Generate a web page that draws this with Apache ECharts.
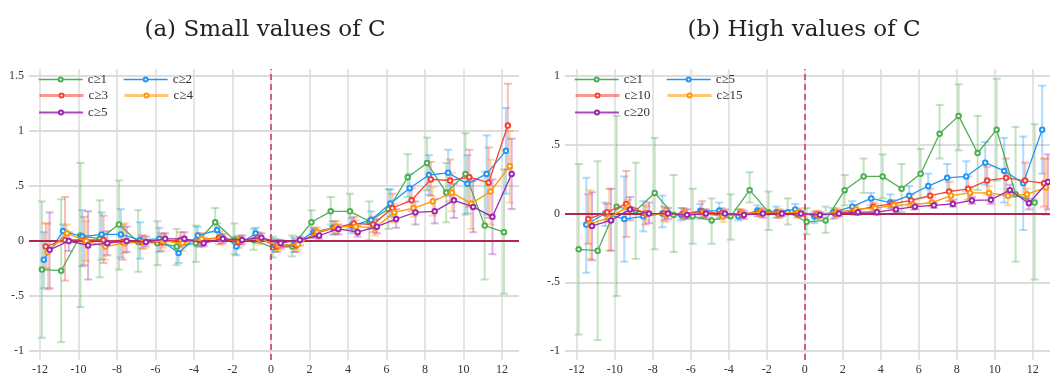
<!DOCTYPE html>
<html>
<head>
<meta charset="utf-8">
<script src="https://cdn.jsdelivr.net/npm/echarts@6/dist/echarts.min.js"></script>
<style>
  html, body { margin: 0; padding: 0; background: #fff; }
  #wrap { width: 1050px; height: 376px; position: relative; }
  .panel { position: absolute; top: 0; width: 525px; height: 376px; }
  #panelA { left: 0; }
  #panelB { left: 525px; }
</style>
</head>
<body>
<div id="wrap">
  <div id="panelA" class="panel"></div>
  <div id="panelB" class="panel"></div>
</div>
<script>
// Event time (periods relative to treatment) and axis ticks
const eventTime = [-12, -11, -10, -9, -8, -7, -6, -5, -4, -3, -2, -1, 0, 1, 2, 3, 4, 5, 6, 7, 8, 9, 10, 11, 12];
const xTicks = [-12, -10, -8, -6, -4, -2, 0, 2, 4, 6, 8, 10, 12];
const yTicksA = [-1, -0.5, 0, 0.5, 1, 1.5];
const yTicksB = [-1, -0.5, 0, 0.5, 1];

// Point estimates and 95% confidence bounds by threshold
const c1Val = [-0.26, -0.27, 0.05, 0.02, 0.15, -0.01, -0.02, -0.05, -0.02, 0.17, 0.01, 0.01, -0.06, -0.05, 0.17, 0.27, 0.27, 0.18, 0.29, 0.58, 0.71, 0.44, 0.61, 0.14, 0.08];
const c1Hi  = [0.36, 0.38, 0.71, 0.37, 0.55, 0.28, 0.18, 0.11, 0.14, 0.30, 0.16, 0.11, 0.04, 0.05, 0.28, 0.40, 0.43, 0.36, 0.47, 0.79, 0.94, 0.71, 0.98, 0.63, 0.65];
const c1Lo  = [-0.88, -0.92, -0.60, -0.33, -0.26, -0.28, -0.22, -0.22, -0.19, 0.08, -0.12, -0.08, -0.15, -0.14, 0.06, 0.15, 0.11, 0.01, 0.11, 0.40, 0.46, 0.17, 0.24, -0.35, -0.48];

const c2Val = [-0.17, 0.09, 0.04, 0.06, 0.06, 0.01, 0.02, -0.11, 0.05, 0.10, -0.05, 0.07, -0.04, -0.03, 0.08, 0.12, 0.14, 0.19, 0.34, 0.48, 0.60, 0.62, 0.52, 0.61, 0.82];
const c2Hi  = [0.08, 0.15, 0.28, 0.26, 0.29, 0.17, 0.12, 0.02, 0.13, 0.16, 0.04, 0.12, 0.02, 0.03, 0.12, 0.18, 0.21, 0.27, 0.47, 0.61, 0.78, 0.83, 0.78, 0.96, 1.21];
const c2Lo  = [-0.43, 0.02, -0.23, -0.17, -0.15, -0.16, -0.10, -0.20, -0.05, 0.02, -0.13, 0.01, -0.10, -0.10, 0.03, 0.06, 0.07, 0.11, 0.22, 0.36, 0.42, 0.41, 0.25, 0.24, 0.43];

const c3Val = [-0.05, 0.01, 0.01, 0.01, -0.01, -0.01, -0.01, 0.01, 0.01, 0.03, -0.01, 0.03, -0.05, -0.04, 0.07, 0.12, 0.16, 0.15, 0.30, 0.37, 0.56, 0.55, 0.58, 0.53, 1.05];
const c3Hi  = [0.16, 0.40, 0.22, 0.23, 0.15, 0.05, 0.07, 0.08, 0.07, 0.09, 0.04, 0.08, 0.01, 0.01, 0.12, 0.18, 0.22, 0.22, 0.43, 0.48, 0.72, 0.74, 0.83, 0.85, 1.43];
const c3Lo  = [-0.25, -0.36, -0.22, -0.20, -0.17, -0.07, -0.09, -0.06, -0.05, -0.03, -0.06, -0.02, -0.10, -0.10, 0.03, 0.06, 0.10, 0.08, 0.18, 0.27, 0.41, 0.36, 0.31, 0.21, 0.65];

const c4Val = [-0.10, 0.07, 0.00, -0.05, -0.02, -0.01, 0.00, -0.02, 0.02, 0.02, 0.01, 0.02, -0.04, -0.03, 0.08, 0.13, 0.13, 0.12, 0.26, 0.30, 0.36, 0.44, 0.34, 0.45, 0.68];
const c4Hi  = [0.16, 0.15, 0.18, 0.07, 0.16, 0.05, 0.06, 0.05, 0.07, 0.07, 0.05, 0.07, 0.01, 0.01, 0.12, 0.18, 0.19, 0.19, 0.34, 0.39, 0.49, 0.62, 0.54, 0.74, 1.00];
const c4Lo  = [-0.44, -0.02, -0.18, -0.17, -0.11, -0.07, -0.06, -0.09, -0.03, -0.03, -0.04, -0.03, -0.09, -0.08, 0.03, 0.07, 0.08, 0.05, 0.17, 0.22, 0.23, 0.27, 0.11, 0.15, 0.35];

const c5Val = [-0.08, 0.00, -0.04, -0.02, 0.00, -0.01, 0.02, 0.02, -0.02, 0.02, 0.01, 0.03, -0.02, 0.01, 0.05, 0.11, 0.08, 0.13, 0.20, 0.26, 0.27, 0.37, 0.31, 0.22, 0.61];
const c5Hi  = [0.26, 0.08, 0.27, 0.09, 0.13, 0.04, 0.07, 0.08, 0.03, 0.06, 0.05, 0.07, 0.01, 0.04, 0.09, 0.15, 0.14, 0.20, 0.29, 0.36, 0.38, 0.52, 0.55, 0.56, 0.93];
const c5Lo  = [-0.43, -0.09, -0.35, -0.13, -0.10, -0.05, -0.04, -0.03, -0.05, -0.02, -0.03, 0.00, -0.07, -0.04, 0.02, 0.06, 0.04, 0.07, 0.12, 0.15, 0.16, 0.21, 0.08, -0.12, 0.29];

const c10Val = [-0.04, 0.01, 0.07, 0.00, 0.00, 0.00, 0.015, 0.00, 0.00, 0.01, 0.00, 0.00, -0.01, 0.00, 0.02, 0.05, 0.07, 0.095, 0.13, 0.16, 0.18, 0.24, 0.26, 0.24, 0.22];
const c10Hi  = [0.14, 0.07, 0.31, 0.06, 0.05, 0.04, 0.09, 0.04, 0.03, 0.04, 0.03, 0.03, 0.02, 0.03, 0.05, 0.08, 0.10, 0.14, 0.18, 0.23, 0.27, 0.34, 0.40, 0.37, 0.40];
const c10Lo  = [-0.22, -0.05, -0.17, -0.08, -0.05, -0.04, -0.03, -0.04, -0.03, -0.02, -0.03, -0.03, -0.04, -0.03, -0.01, 0.02, 0.04, 0.05, 0.08, 0.09, 0.10, 0.14, 0.13, 0.11, 0.05];

const c15Val = [-0.075, -0.03, 0.05, 0.00, -0.01, 0.00, 0.00, -0.02, 0.00, 0.01, 0.00, 0.01, -0.01, 0.01, 0.03, 0.04, 0.06, 0.065, 0.08, 0.13, 0.15, 0.15, 0.13, 0.14, 0.19];
const c15Hi  = [0.17, 0.18, 0.10, 0.05, 0.04, 0.03, 0.03, 0.02, 0.03, 0.04, 0.03, 0.04, 0.02, 0.04, 0.06, 0.07, 0.09, 0.10, 0.12, 0.17, 0.18, 0.20, 0.17, 0.18, 0.40];
const c15Lo  = [-0.33, -0.27, 0.00, -0.05, -0.06, -0.03, -0.03, -0.06, -0.03, -0.02, -0.03, -0.02, -0.04, -0.02, 0.00, 0.01, 0.03, 0.03, 0.05, 0.09, 0.11, 0.09, 0.06, 0.09, -0.01];

const c20Val = [-0.09, -0.05, 0.03, 0.00, 0.00, -0.01, 0.00, 0.00, -0.01, 0.00, 0.00, 0.00, -0.01, 0.00, 0.01, 0.01, 0.03, 0.05, 0.06, 0.07, 0.095, 0.10, 0.17, 0.075, 0.23];
const c20Hi  = [0.155, 0.18, 0.12, 0.08, 0.04, 0.03, 0.03, 0.03, 0.02, 0.03, 0.02, 0.02, 0.01, 0.02, 0.03, 0.03, 0.05, 0.07, 0.08, 0.10, 0.12, 0.13, 0.21, 0.11, 0.43];
const c20Lo  = [-0.34, -0.27, -0.05, -0.07, -0.04, -0.04, -0.03, -0.03, -0.04, -0.03, -0.02, -0.02, -0.03, -0.02, -0.01, -0.01, 0.01, 0.03, 0.04, 0.05, 0.07, 0.07, 0.12, 0.03, 0.03];

// Colour per line slot
const palette = ['#4caf50', '#2196f3', '#f44336', '#ff9800', '#9c27b0'];
const barPalette = ['rgba(76,175,80,0.35)', 'rgba(33,150,243,0.35)', 'rgba(244,67,54,0.35)', 'rgba(255,152,0,0.35)', 'rgba(156,39,176,0.35)'];
// Legend key stroke per slot
const legendStroke = [
  { width: 1.3, opacity: 1 },
  { width: 1.3, opacity: 1 },
  { width: 3, opacity: 0.55 },
  { width: 3, opacity: 0.55 },
  { width: 2, opacity: 0.85 }
];
const FONT = "'Liberation Serif', 'DejaVu Serif', serif";
const TITLE_FONT = "'DejaVu Serif', 'Liberation Serif', serif";

// Each threshold gets a small horizontal dodge so bars do not overlap
const groupsA = [
  { name: 'c≥1', val: c1Val, lo: c1Lo, hi: c1Hi, dodge: 0.1 },
  { name: 'c≥2', val: c2Val, lo: c2Lo, hi: c2Hi, dodge: 0.2 },
  { name: 'c≥3', val: c3Val, lo: c3Lo, hi: c3Hi, dodge: 0.3 },
  { name: 'c≥4', val: c4Val, lo: c4Lo, hi: c4Hi, dodge: 0.4 },
  { name: 'c≥5', val: c5Val, lo: c5Lo, hi: c5Hi, dodge: 0.5 }
];
const groupsB = [
  { name: 'c≥1',  val: c1Val,  lo: c1Lo,  hi: c1Hi,  dodge: 0.1 },
  { name: 'c≥5',  val: c5Val,  lo: c5Lo,  hi: c5Hi,  dodge: 0.5 },
  { name: 'c≥10', val: c10Val, lo: c10Lo, hi: c10Hi, dodge: 0.6 },
  { name: 'c≥15', val: c15Val, lo: c15Lo, hi: c15Hi, dodge: 0.7 },
  { name: 'c≥20', val: c20Val, lo: c20Lo, hi: c20Hi, dodge: 0.8 }
];

function fmtY(v) {
  if (v === 0) return '0';
  return String(v).replace('0.', '.');
}

function errorBarRenderer(color) {
  return function (params, api) {
    const x = api.value(0);
    const pLo = api.coord([x, api.value(1)]);
    const pHi = api.coord([x, api.value(2)]);
    const cap = 4;
    const style = { stroke: color, lineWidth: 2 };
    return {
      type: 'group',
      children: [
        { type: 'line', shape: { x1: pLo[0], y1: pLo[1], x2: pHi[0], y2: pHi[1] }, style: style },
        { type: 'line', shape: { x1: pLo[0] - cap, y1: pLo[1], x2: pLo[0] + cap, y2: pLo[1] }, style: style },
        { type: 'line', shape: { x1: pHi[0] - cap, y1: pHi[1], x2: pHi[0] + cap, y2: pHi[1] }, style: style }
      ]
    };
  };
}

function buildOption(cfg) {
  const series = [];
  cfg.groups.forEach(function (g, i) {
    series.push({
      name: g.name + ' ci',
      type: 'custom',
      renderItem: errorBarRenderer(barPalette[i]),
      encode: { x: 0, y: [1, 2] },
      data: eventTime.map(function (t, k) { return [t + g.dodge, g.lo[k], g.hi[k]]; }),
      z: 1,
      silent: true
    });
  });
  cfg.groups.forEach(function (g, i) {
    series.push({
      name: g.name,
      type: 'line',
      data: eventTime.map(function (t, k) { return [t + g.dodge, g.val[k]]; }),
      symbol: 'emptyCircle',
      symbolSize: 4.5,
      showAllSymbol: true,
      color: palette[i],
      lineStyle: { width: 1.3, color: palette[i] },
      itemStyle: { color: palette[i], borderWidth: 1.2 },
      z: 3 + i
    });
  });
  // Reference lines: zero effect and treatment date
  series.push({
    name: 'ref',
    type: 'line',
    data: [],
    silent: true,
    z: 2,
    markLine: {
      silent: true,
      symbol: 'none',
      label: { show: false },
      animation: false,
      data: [
        { yAxis: 0, lineStyle: { color: '#b0264f', width: 2, type: 'solid' } },
        { xAxis: 0, lineStyle: { color: '#c8325e', width: 1.5, type: [6, 4] } }
      ]
    }
  });

  const legends = cfg.groups.map(function (g, i) {
    const pos = cfg.legendPos[i];
    return {
      data: [g.name],
      left: pos[0],
      top: pos[1],
      itemWidth: 44,
      itemHeight: 5,
      itemGap: 5,
      selectedMode: false,
      lineStyle: { width: legendStroke[i].width, opacity: legendStroke[i].opacity },
      textStyle: { fontFamily: FONT, fontSize: 13, color: '#333' }
    };
  });

  return {
    animation: false,
    backgroundColor: '#fff',
    title: {
      text: cfg.title,
      left: cfg.titleX,
      textAlign: 'center',
      top: 14,
      textStyle: { fontFamily: TITLE_FONT, fontSize: 23, fontWeight: 'normal', color: '#222' }
    },
    legend: legends,
    grid: { left: cfg.gridLeft, right: cfg.gridRight, top: 69, bottom: 16 },
    xAxis: {
      type: 'value',
      min: cfg.xMin,
      max: cfg.xMax,
      axisLine: { show: false },
      axisTick: { show: false, customValues: xTicks },
      axisLabel: { customValues: xTicks, margin: 4, fontFamily: FONT, fontSize: 12, color: '#333' },
      splitLine: { show: true, lineStyle: { color: '#dcdcdc', width: 1.5 } }
    },
    yAxis: {
      type: 'value',
      min: cfg.yMin,
      max: cfg.yMax,
      axisLine: { show: false },
      axisTick: { show: false, customValues: cfg.yTicks },
      axisLabel: { customValues: cfg.yTicks, margin: 5, formatter: fmtY, fontFamily: FONT, fontSize: 12, color: '#333' },
      splitLine: { show: true, lineStyle: { color: '#dcdcdc', width: 2 } }
    },
    series: series
  };
}

const chartA = echarts.init(document.getElementById('panelA'), null, { renderer: 'canvas' });
chartA.setOption(buildOption({
  title: '(a) Small values of C',
  titleX: 260,
  groups: groupsA,
  legendPos: [[33, 68], [118, 68], [33, 84], [118, 84], [33, 101]],
  gridLeft: 29, gridRight: 6,
  xMin: -12.57, xMax: 12.88,
  yMin: -1.082, yMax: 1.564,
  yTicks: yTicksA
}));

const chartB = echarts.init(document.getElementById('panelB'), null, { renderer: 'canvas' });
chartB.setOption(buildOption({
  title: '(b) High values of C',
  titleX: 274,
  groups: groupsB,
  legendPos: [[44, 68], [136, 68], [44, 84], [136, 84], [44, 101]],
  gridLeft: 40, gridRight: 0,
  xMin: -12.62, xMax: 12.91,
  yMin: -1.065, yMax: 1.051,
  yTicks: yTicksB
}));
</script>
</body>
</html>
